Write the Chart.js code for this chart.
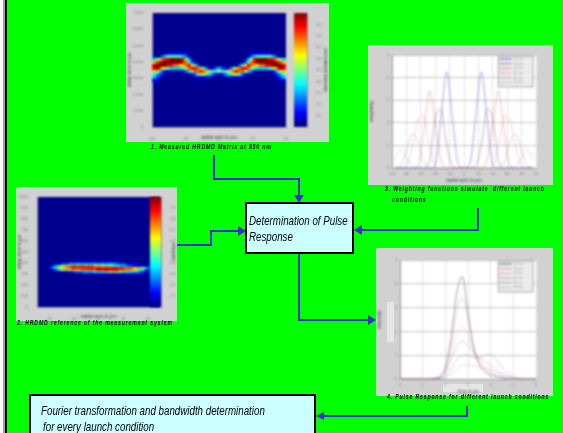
<!DOCTYPE html>
<html>
<head>
<meta charset="utf-8">
<script src="https://cdn.jsdelivr.net/npm/chart.js@4"></script>
<style>
html, body { margin: 0; padding: 0; overflow: hidden; }
#page { position: relative; width: 563px; height: 433px; background: #00ff00; overflow: hidden; }
.edge { position: absolute; top: 0; height: 433px; }
.panel { position: absolute; background: #d1d1d1; filter: blur(0.4px); }
.panel canvas { position: absolute; left: 0; top: 0; filter: blur(0.9px); }
.patch { position: absolute; background: #e6e6e6; }
.caption { position: absolute; font: italic bold 8px "Liberation Sans", sans-serif; letter-spacing: 1.25px; color: #000; white-space: pre; transform: scaleX(0.65); transform-origin: left center; filter: blur(0.25px); }
.box { position: absolute; box-sizing: border-box; background: #ccffff; border: 2px solid #000; }
.box div { position: absolute; font: italic 13px "Liberation Sans", sans-serif; color: #000; white-space: pre; transform: scaleX(0.75); transform-origin: left center; filter: blur(0.3px); }
svg { position: absolute; left: 0; top: 0; }
</style>
</head>
<body>
<div id="page">
    <div class="edge" style="left:0;width:3px;background:#fff"></div>
    <div class="edge" style="left:3px;width:2px;background:#a0a0a0"></div>
    <div class="edge" style="left:5px;width:2px;background:#000"></div>

    <div class="panel" style="left:126px;top:3px;width:203px;height:139px">
        <canvas id="heatOne" width="203" height="139"></canvas>
    </div>
    <div class="panel" style="left:16px;top:187px;width:161px;height:134px">
        <canvas id="heatTwo" width="161" height="134"></canvas>
    </div>
    <div class="panel" style="left:368px;top:45px;width:185px;height:140px">
        <canvas id="weightChart" width="185" height="140"></canvas>
    </div>
    <div class="panel" style="left:376px;top:248px;width:177px;height:148px">
        <div class="patch" style="left:11px;top:54px;width:7px;height:40px"></div>
        <div class="patch" style="left:67px;top:136px;width:40px;height:8px"></div>
        <canvas id="pulseChart" width="177" height="148"></canvas>
    </div>

    <div class="caption" style="left:151px;top:142px">1. Measured HRDMD Matrix at 850 nm</div>
    <div class="caption" style="left:17px;top:318px">2. HRDMD reference of the measurement system</div>
    <div class="caption" style="left:385px;top:184px">3. Weighting functions simulate  different launch</div>
    <div class="caption" style="left:392px;top:195px">conditions</div>
    <div class="caption" style="left:387px;top:392px">4. Pulse Response for different launch conditions</div>

    <svg width="563" height="433">
        <g fill="none" stroke="#3730c8" stroke-width="2">
            <polyline points="214,155 214,179 299,179 299,196"></polyline>
            <polyline points="177,245 211,245 211,231 240,231"></polyline>
            <polyline points="478,208 478,230 360,230"></polyline>
            <polyline points="299,254 299,320 370,320"></polyline>
            <polyline points="467,406 467,416 322,416"></polyline>
        </g>
        <g fill="#3730c8">
            <polygon points="294,195 304,195 299,203"></polygon>
            <polygon points="238,226 238,236 246,231"></polygon>
            <polygon points="362,225 362,235 354,230"></polygon>
            <polygon points="368,315 368,325 376,320"></polygon>
            <polygon points="324,412 324,420 316,416"></polygon>
        </g>
    </svg>

    <div class="box" style="left:245px;top:202px;width:109px;height:52px">
        <div style="left:2px;top:9px">Determination of Pulse</div>
        <div style="left:2px;top:25px">Response</div>
    </div>
    <div class="box" style="left:29px;top:394px;width:287px;height:50px">
        <div style="left:10px;top:7px">Fourier transformation and bandwidth determination</div>
        <div style="left:12px;top:23px">for every launch condition</div>
    </div>
</div>

<script>
// matriks HRDMD terbaca dari gambar, satu digit per sel (0 = latar, 9 = maksimum)
const heatOneFirstRow = 13;
const heatOneRowCount = 38;
const heatOneColCount = 45;
const heatOneRows = [
    '000001111111000000000000000000000111111100000',
    '000234444432000000000000000000000234444432000',
    '345788999985310000000000000000013589999887543',
    '678999999987420000000000000000024789999999876',
    '899998877667864200000000000002468766778899998',
    '898654333345788764211232112467887543333456898',
    '664211000012357787654454456787753210000112466',
    '432100000000012455432111234554210000000001234',
    '321000000000000111100000001111000000000000123',
    '110000000000000000000000000000000000000000011'
];
const heatTwoFirstRow = 32;
const heatTwoRowCount = 55;
const heatTwoColCount = 54;
const heatTwoRows = [
    '000000000000000111111111111111111111000000000000000000',
    '000000000112223333333333333333333332222111100000000000',
    '000000123455667777777777766665555444333222111110000000',
    '000001234556677888888888888888888888887777666554321000',
    '000000012345555666667777778888888888777776665432110000',
    '000000000000011122223333344444455555554444333221100000',
    '000000000000000000001111111111111111111111111100000000'
];

const heatOneXTicks = [-50, -25, 0, 25, 50];
const heatOneYTicks = [0, 1000, 2000, 3000, 4000, 5000, 6000, 7000];
const heatTwoXTicks = [-20, -10, 0, 10, 20];
const heatTwoYTicks = [0, 100, 200, 300, 400, 500, 600, 700, 800, 900, 1000];
const colorBarTicks = [0.1, 0.2, 0.3, 0.4, 0.5, 0.6, 0.7, 0.8, 0.9];
const colorBarLevels = [0.02, 0.05, 0.08, 0.11, 0.14, 0.17, 0.2, 0.23, 0.26, 0.29, 0.32, 0.35, 0.38, 0.41, 0.44, 0.47,
    0.5, 0.53, 0.56, 0.59, 0.62, 0.65, 0.68, 0.71, 0.74, 0.77, 0.8, 0.83, 0.86, 0.89, 0.92, 0.95, 0.98];

// fungsi pembobotan per posisi radial
const weightRadius = [-48, -44, -40, -36, -32, -28, -24, -20, -16, -12, -8, -4, 0, 4, 8, 12, 16, 20, 24, 28, 32, 36, 40, 44, 48];
const weightNames = ['12 um', '18 um', '24 um', '30 um', '36 um', '44 um'];
const weightOne = [0, 0, 0, 0, 0, 0, 0, 0.1, 2.2, 4.25, 2.2, 0.2, 0, 0.2, 2.2, 4.25, 2.2, 0.1, 0, 0, 0, 0, 0, 0, 0];
const weightTwo = [0, 0, 0, 0, 0, 0, 0.3, 2.2, 2.6, 1, 0.1, 0, 0, 0, 0.1, 1, 2.6, 2.2, 0.3, 0, 0, 0, 0, 0, 0];
const weightThree = [0, 0, 0, 0, 0.1, 1.6, 3.4, 2, 0.4, 0, 0, 0, 0, 0, 0, 0, 0.4, 2, 3.4, 1.6, 0.1, 0, 0, 0, 0];
const weightFour = [0, 0, 0.1, 0.9, 2.1, 2.3, 1, 0.1, 0, 0, 0, 0, 0, 0, 0, 0, 0, 0.1, 1, 2.3, 2.1, 0.9, 0.1, 0, 0];
const weightFive = [0, 0.1, 0.8, 1.5, 1.2, 0.3, 0, 0, 0, 0, 0, 0, 0, 0, 0, 0, 0, 0, 0, 0.3, 1.2, 1.5, 0.8, 0.1, 0];
const weightSix = [0.4, 0.8, 0.5, 0.1, 0, 0, 0, 0, 0, 0, 0, 0, 0, 0, 0, 0, 0, 0, 0, 0, 0, 0.1, 0.5, 0.8, 0.4];
const weightXTicks = [-50, -40, -30, -20, -10, 0, 10, 20, 30, 40, 50];
const weightYTicks = [0, 1, 2, 3, 4, 5];

// respons pulsa per waktu tunda
const pulseTime = [0, 0.25, 0.5, 0.75, 1, 1.25, 1.5, 1.75, 2, 2.25, 2.5, 2.75, 3, 3.25, 3.5, 3.75, 4, 4.25, 4.5, 4.75, 5, 5.25, 5.5, 5.75, 6];
const pulseNames = ['12 um', '18 um', '24 um', '30 um', '36 um', '44 um'];
const pulseOne = [0, 0, 0, 0, 0, 0, 0.03, 0.1, 0.5, 1.7, 3.6, 4.3, 2.8, 1.3, 0.6, 0.3, 0.15, 0.1, 0.05, 0, 0, 0, 0, 0, 0];
const pulseTwo = [0, 0, 0, 0, 0, 0, 0.02, 0.08, 0.4, 1.4, 2.9, 3.4, 2.5, 1.3, 0.7, 0.4, 0.25, 0.12, 0.05, 0, 0, 0, 0, 0, 0];
const pulseThree = [0, 0, 0, 0, 0, 0, 0.02, 0.06, 0.3, 1, 1.9, 2.2, 1.8, 1.2, 0.8, 0.5, 0.35, 0.2, 0.1, 0.04, 0, 0, 0, 0, 0];
const pulseFour = [0, 0, 0, 0, 0, 0, 0.01, 0.05, 0.2, 0.8, 1.3, 1.6, 1.4, 1.1, 0.9, 0.7, 0.6, 0.4, 0.2, 0.1, 0.03, 0, 0, 0, 0];
const pulseFive = [0, 0, 0, 0, 0, 0, 0, 0.03, 0.1, 0.4, 0.8, 1, 1, 0.9, 0.9, 1, 1.05, 0.8, 0.5, 0.25, 0.08, 0.02, 0, 0, 0];
const pulseSix = [0, 0, 0, 0, 0, 0, 0, 0.02, 0.05, 0.2, 0.4, 0.6, 0.6, 0.55, 0.5, 0.45, 0.4, 0.3, 0.2, 0.1, 0.05, 0.02, 0, 0, 0];
const pulseXTicks = [0, 1, 2, 3, 4, 5, 6];
const pulseYTicks = [0, 1, 2, 3, 4, 5];

const tickFont = { family: 'Liberation Sans', size: 4 };
const titleFont = { family: 'Liberation Sans', size: 5, style: 'italic' };

function jet(v) {
    const part = c => Math.round(255 * Math.max(0, Math.min(1, 1.5 - Math.abs(4 * v - c))));
    return `rgb(${part(3)},${part(2)},${part(1)})`;
}

// latar area plot, dan kotak legenda yang diletakkan di kanan atas
const plotBackground = {
    id: 'plotBackground',
    beforeDraw(chart, args, opts) {
        const area = chart.chartArea;
        chart.ctx.fillStyle = opts.color;
        chart.ctx.fillRect(area.left, area.top, area.width, area.height);
    }
};
const cornerLegend = {
    id: 'cornerLegend',
    afterLayout(chart) {
        const legend = chart.legend;
        if (!legend || !legend.options.display) return;
        legend.left = chart.chartArea.right - legend.width - 3;
        legend.top = chart.chartArea.top + 1;
        const boxes = legend.legendHitBoxes;
        const boxHeight = boxes[boxes.length - 1].top + boxes[boxes.length - 1].height - boxes[0].top + 4;
        const drawLegend = legend.draw;
        legend.draw = function () {
            chart.ctx.fillStyle = '#ececec';
            chart.ctx.strokeStyle = '#a8a8a8';
            chart.ctx.fillRect(legend.left, legend.top, legend.width, boxHeight);
            chart.ctx.strokeRect(legend.left, legend.top, legend.width, boxHeight);
            drawLegend.call(legend);
        };
    }
};
Chart.register(plotBackground, cornerLegend);

function fixedAxis(min, max, ticks, title, thickness, extra) {
    return Object.assign({
        type: 'linear',
        min: min,
        max: max,
        afterBuildTicks: axis => { axis.ticks = ticks.map(v => ({ value: v })); },
        afterFit: axis => {
            if (axis.isHorizontal()) axis.height = thickness; else axis.width = thickness;
        },
        ticks: { font: tickFont, color: '#777', padding: 1, autoSkip: false, maxRotation: 0 },
        grid: { display: false },
        border: { color: '#999' },
        title: { display: true, text: title, font: titleFont, color: '#444', padding: 1 }
    }, extra || {});
}

function baseOptions(padding, background, scales, plugins) {
    return {
        responsive: false,
        animation: false,
        events: [],
        layout: { padding: padding },
        scales: scales,
        plugins: Object.assign({ legend: { display: false }, tooltip: { enabled: false }, plotBackground: { color: background } }, plugins || {})
    };
}

// sel heatmap digambar lewat scatter dengan titik persegi
function heatCells(rows, firstRow, rowCount, colCount, xMin, xMax, yMax) {
    const cells = [];
    rows.forEach((row, r) => {
        [...row].forEach((digit, c) => {
            if (digit === '0') return;
            cells.push({
                x: xMin + (c + 0.5) / colCount * (xMax - xMin),
                y: yMax - (firstRow + r + 0.5) / rowCount * yMax,
                level: Number(digit) / 9
            });
        });
    });
    return cells;
}

function renderHeatmap(id, cells, cellRadius, padding, xRange, xTicks, yMax, yTicks, leftWidth, bottomHeight) {
    new Chart(document.getElementById(id), {
        type: 'scatter',
        data: {
            datasets: [{
                data: cells,
                pointStyle: 'rect',
                pointRadius: cellRadius,
                borderWidth: 0,
                backgroundColor: ctx => jet(ctx.raw.level)
            }]
        },
        options: baseOptions(padding, '#000090', {
            x: fixedAxis(xRange[0], xRange[1], xTicks, 'radial axis in \u00b5m', bottomHeight),
            y: fixedAxis(0, yMax, yTicks, 'delay time in ps', leftWidth)
        })
    });
}

// colorbar: bar bertumpuk, satu dataset per tingkat warna
function renderColorBar(canvas, padding, rightWidth, title) {
    let previous = 0;
    const datasets = colorBarLevels.map((level, i) => {
        const top = i === colorBarLevels.length - 1 ? 1 : (level + colorBarLevels[i + 1]) / 2;
        const slice = top - previous;
        previous = top;
        return { data: [slice], backgroundColor: jet(level), barPercentage: 1, categoryPercentage: 1, stack: 'bar' };
    });
    return new Chart(canvas, {
        type: 'bar',
        data: { labels: [''], datasets: datasets },
        options: baseOptions(padding, '#000090', {
            x: { stacked: true, display: false },
            y: fixedAxis(0, 1, colorBarTicks, title, rightWidth, { position: 'right', stacked: true })
        })
    });
}

function lineDatasets(xs, series, names, colors) {
    return series.map((values, i) => ({
        label: names[i],
        data: values.map((v, k) => ({ x: xs[k], y: v })),
        borderColor: colors[i],
        backgroundColor: colors[i],
        borderWidth: 1,
        pointRadius: 0,
        cubicInterpolationMode: 'monotone',
        showLine: true
    }));
}

function renderLineChart(id, datasets, padding, xAxis, yAxis) {
    // garis horizontal lebih tegas daripada vertikal, seperti di gambar
    xAxis.grid = { display: true, color: '#e2e2e2', lineWidth: 1, tickLength: 2 };
    yAxis.grid = { display: true, color: '#c2c2c2', lineWidth: 1, tickLength: 2 };
    new Chart(document.getElementById(id), {
        type: 'scatter',
        data: { datasets: datasets },
        options: baseOptions(padding, '#ffffff', { x: xAxis, y: yAxis }, {
            legend: {
                display: true,
                position: 'chartArea',
                align: 'start',
                labels: { font: { family: 'Liberation Sans', size: 3.5 }, color: '#999', boxWidth: 12, boxHeight: 0, padding: 1.2 }
            }
        })
    });
}

// canvas colorbar ditambahkan di atas panel yang sama
function addBarCanvas(afterId, left, width, height) {
    const canvas = document.createElement('canvas');
    canvas.width = width;
    canvas.height = height;
    canvas.style.left = left + 'px';
    document.getElementById(afterId).parentNode.appendChild(canvas);
    return canvas;
}

const weightColors = ['rgba(60,60,210,0.45)', 'rgba(60,60,90,0.35)', 'rgba(225,70,70,0.35)', 'rgba(230,120,160,0.35)', 'rgba(130,130,90,0.3)', 'rgba(150,150,200,0.3)'];
const pulseColors = ['rgba(70,70,90,0.5)', 'rgba(220,90,90,0.3)', 'rgba(230,120,160,0.3)', 'rgba(110,110,200,0.3)', 'rgba(130,130,90,0.35)', 'rgba(150,150,200,0.3)'];

renderHeatmap('heatOne', heatCells(heatOneRows, heatOneFirstRow, heatOneRowCount, heatOneColCount, -50, 50, 7000), 2.3,
    { left: 0, top: 10, right: 43, bottom: 0 }, [-50, 50], heatOneXTicks, 7000, heatOneYTicks, 26, 15);
renderColorBar(addBarCanvas('heatOne', 162, 41, 139), { left: 6, top: 10, right: 0, bottom: 15 }, 22, 'normalized intensity');

renderHeatmap('heatTwo', heatCells(heatTwoRows, heatTwoFirstRow, heatTwoRowCount, heatTwoColCount, -25, 25, 1000), 1.5,
    { left: 0, top: 10, right: 17, bottom: 0 }, [-25, 25], heatTwoXTicks, 1000, heatTwoYTicks, 21, 14);
renderColorBar(addBarCanvas('heatTwo', 128, 33, 134), { left: 6, top: 10, right: 0, bottom: 14 }, 16, 'intensity');

renderLineChart('weightChart',
    lineDatasets(weightRadius, [weightOne, weightTwo, weightThree, weightFour, weightFive, weightSix], weightNames, weightColors),
    { left: 0, top: 10, right: 17, bottom: 0 },
    fixedAxis(-50, 50, weightXTicks, 'radial axis in \u00b5m', 17),
    fixedAxis(0, 5, weightYTicks, 'weighting', 24));

renderLineChart('pulseChart',
    lineDatasets(pulseTime, [pulseOne, pulseTwo, pulseThree, pulseFour, pulseFive, pulseSix], pulseNames, pulseColors),
    { left: 0, top: 12, right: 17, bottom: 0 },
    fixedAxis(0, 6, pulseXTicks, 'time in ps', 17),
    fixedAxis(0, 5, pulseYTicks, 'intensity', 24));
</script>
</body>
</html>
